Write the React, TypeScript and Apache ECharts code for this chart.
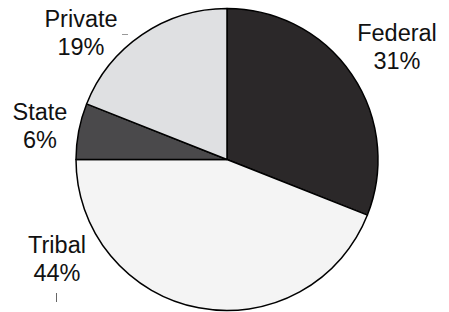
import React, { useEffect, useRef } from "react";
import * as echarts from "echarts";

const categories = ["Federal", "Tribal", "State", "Private"];
const values = [31, 44, 6, 19];
const colors = ["#2b2829", "#f4f4f4", "#4a494b", "#dfe0e2"];
const labelPos: [number, number][] = [
  [397, 47],
  [57, 259],
  [40, 126],
  [81, 33],
];

export default function App() {
  const ref = useRef<HTMLDivElement>(null);
  useEffect(() => {
    if (!ref.current) return;
    const chart = echarts.init(ref.current, null, { renderer: "svg" });
    chart.setOption({
      animation: false,
      backgroundColor: "#ffffff",
      series: [
        {
          type: "pie",
          center: [227, 159.5],
          radius: 151,
          startAngle: 90,
          clockwise: true,
          data: categories.map((c, i) => ({
            name: c,
            value: values[i],
            itemStyle: { color: colors[i] },
          })),
          itemStyle: { borderColor: "#000", borderWidth: 1.5 },
          label: { show: false },
          labelLine: { show: false },
          emphasis: { disabled: true },
          silent: true,
        },
      ],
      graphic: [
        ...categories.map((c, i) => ({
          type: "text",
          x: labelPos[i][0],
          y: labelPos[i][1],
          style: {
            text: `${c}\n${values[i]}%`,
            font: '23.5px "Liberation Sans", Arial, sans-serif',
            lineHeight: 28,
            fill: "#111",
            align: "center",
            verticalAlign: "middle",
          },
        })),
        {
          type: "line",
          shape: { x1: 122, y1: 34.5, x2: 128, y2: 34.5 },
          style: { stroke: "#999", lineWidth: 1 },
        },
        {
          type: "line",
          shape: { x1: 56.5, y1: 293, x2: 56.5, y2: 302 },
          style: { stroke: "#666", lineWidth: 1 },
        },
      ],
    });
    return () => chart.dispose();
  }, []);
  return <div ref={ref} style={{ width: 449, height: 312, position: "absolute", left: 0, top: 0 }} />;
}
